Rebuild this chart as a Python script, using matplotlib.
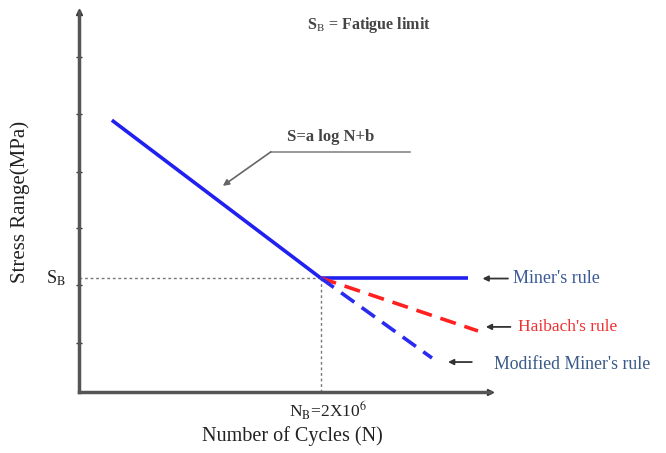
import matplotlib.pyplot as plt
import numpy as np

plt.rcParams['font.family'] = ['Liberation Serif', 'DejaVu Serif']
plt.rcParams['mathtext.fontset'] = 'stix'

# S-N curve (x ~ log N, y ~ stress range), arbitrary units
sn_x = [0.80, 5.88]
sn_y = [4.72, 1.98]
knee_x, knee_y = 5.88, 1.98

miner_x = [5.88, 9.46]
miner_y = [1.98, 1.98]
haibach_x = [5.88, 9.71]
haibach_y = [1.98, 1.06]
modified_x = [5.88, 8.59]
modified_y = [1.98, 0.59]

ytick_pos = [0.85, 1.86, 2.85, 3.82, 4.83, 5.82]

fig = plt.figure(figsize=(6.66, 4.53), dpi=100)
ax = fig.add_axes([0.1186, 0.1347, 0.617, 0.839])
ax.set_xlim(0, 10)
ax.set_ylim(0, 6.6)

ax.spines['top'].set_visible(False)
ax.spines['right'].set_visible(False)
for s in ['left', 'bottom']:
    ax.spines[s].set_linewidth(2.5)
    ax.spines[s].set_color('#555555')
# arrow heads on the axes
ax.plot(1, 0, '>', color='#333333', ms=5, transform=ax.transAxes, clip_on=False)
ax.plot(0, 1, '^', color='#333333', ms=4, transform=ax.transAxes, clip_on=False)

ax.set_xticks([])
ax.set_yticks(ytick_pos)
ax.set_yticklabels([])
ax.tick_params(axis='y', direction='inout', length=4, width=1, color='#333333')

# guide lines to the knee
ax.plot([0, knee_x], [knee_y, knee_y], color='#777777', lw=1, ls=(0, (2, 2)))
ax.plot([knee_x, knee_x], [0, knee_y], color='#777777', lw=1, ls=(0, (2, 2)))

ax.plot(sn_x, sn_y, color='#2020f0', lw=2.6, solid_capstyle='butt')
ax.plot(miner_x, miner_y, color='#2020f0', lw=2.6, solid_capstyle='butt')
ax.plot(haibach_x, haibach_y, color='#ff2020', lw=2.6, ls=(0, (4.5, 2.5)))
ax.plot(modified_x, modified_y, color='#2a2af0', lw=2.6, ls=(0, (4.5, 2.5)))

# equation leader
ax.text(6.13, 4.43, 'S=a log N+b', ha='center', va='center', fontsize=12,
        fontweight='bold', color='#444444')
ax.plot([8.05, 4.67], [4.17, 4.17], color='#888888', lw=1.2, clip_on=False)
ax.annotate('', xy=(3.50, 3.58), xytext=(4.67, 4.17),
            arrowprops=dict(arrowstyle='-|>', color='#666666', lw=1.2,
                            mutation_scale=9, shrinkA=0, shrinkB=0))

ax.text(5.55, 6.37, r'S$_{\rm B}$ = Fatigue limit', ha='left', va='center',
        fontsize=11.5, fontweight='bold', color='#444444')

# rule labels
arrow_kw = dict(arrowstyle='-|>', color='#333333', lw=1.3, mutation_scale=8,
                shrinkA=0, shrinkB=0)
ax.annotate('', xy=(9.82, 1.97), xytext=(10.44, 1.97), arrowprops=arrow_kw,
            annotation_clip=False)
ax.text(10.56, 1.97, "Miner's rule", ha='left', va='center', fontsize=13,
        color='#3a5a98')
ax.annotate('', xy=(9.90, 1.13), xytext=(10.50, 1.13), arrowprops=arrow_kw,
            annotation_clip=False)
ax.text(10.68, 1.13, "Haibach's rule", ha='left', va='center', fontsize=12.5,
        color='#ee3030')
ax.annotate('', xy=(8.98, 0.52), xytext=(9.56, 0.52), arrowprops=arrow_kw,
            annotation_clip=False)
ax.text(10.10, 0.47, "Modified Miner's rule", ha='left', va='center',
        fontsize=12.8, color='#3a5a88')

# axis labels
ax.text(-0.32, knee_y, r'S$_{\rm B}$', ha='right', va='center', fontsize=13,
        color='#222222')
ax.text(6.05, -0.32, r'N$_{\rm B}$=2X10$^{6}$', ha='center', va='center',
        fontsize=12.5, color='#222222')
ax.text(5.2, -0.76, 'Number of Cycles (N)', ha='center', va='center',
        fontsize=14.5, color='#222222')
ax.set_ylabel('Stress Range(MPa)', fontsize=15, color='#222222', labelpad=30)

fig.savefig('out.png', dpi=100)
